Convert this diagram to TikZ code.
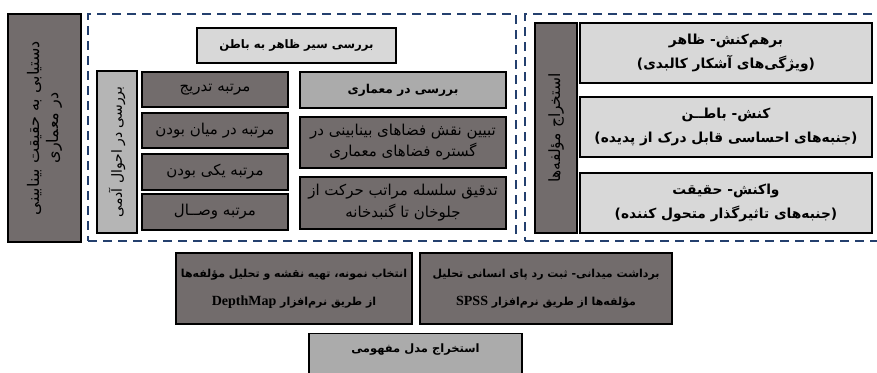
\documentclass[tikz,border=0pt]{standalone}
\usepackage{fontspec}
\TeXXeTstate=1
\newfontfamily\fafont[Script=Arabic]{DejaVu Sans}
\newfontfamily\latfont{Liberation Serif}
\newcommand\fl[1]{\beginR#1\endR}
\newcommand\latw[1]{\beginL{\latfont\bfseries\fontsize{14}{14}\selectfont #1}\endL}
\definecolor{dkgray}{HTML}{726C6C}
\definecolor{ltgray}{HTML}{D8D8D8}
\definecolor{mdgray}{HTML}{ABABAB}
\definecolor{vgray}{HTML}{B5B5B5}
\definecolor{navy}{HTML}{24406E}
\begin{document}
\begin{tikzpicture}[x=1pt,y=-1pt,
  box/.style={draw=black, line width=1.3pt, align=center, inner sep=2pt},
  rg/.style 2 args={font=\fafont\fontsize{#1}{#2}\selectfont},
  bd/.style 2 args={font=\fafont\bfseries\fontsize{#1}{#2}\selectfont},
  dk/.style={box, fill=dkgray},
  lt/.style={box, fill=ltgray},
  md/.style={box, fill=mdgray},
  vg/.style={box, fill=vgray},
  grp/.style={draw=navy, line width=2.2pt, dash pattern=on 9pt off 6pt, inner sep=0pt}]
\clip (0,0) rectangle (877,372);
\fill[white] (0,0) rectangle (877,372);

% outcome column
\node[dk, rg={16}{19}, rotate=90, minimum width=228pt, minimum height=73pt] (goal) at (44.5,128)
  {\fl{دستیابی به حقیقت بینابینی}\\\fl{در معماری}};

% group: from the outer to the inner
\node[grp, minimum width=428pt, minimum height=227pt] (inner) at (302,127.5) {};
\node[lt, bd={11.7}{14}, minimum width=199pt, minimum height=35pt] (sir) at (296.5,45.5) {\fl{بررسی سیر ظاهر به باطن}};

\node[vg, rg={14}{16}, rotate=90, minimum width=162pt, minimum height=40pt] (ahval) at (117,152) {\fl{بررسی در احوال آدمی}};
\node[dk, rg={15}{16}, minimum width=146pt, minimum height=35pt] (m1) at (215,89.5) {\fl{مرتبه تدریج}};
\node[dk, rg={15}{16}, minimum width=146pt, minimum height=35pt] (m2) at (215,130.5) {\fl{مرتبه در میان بودن}};
\node[dk, rg={15}{16}, minimum width=146pt, minimum height=36pt] (m3) at (215,172) {\fl{مرتبه یکی بودن}};
\node[dk, rg={15}{16}, minimum width=146pt, minimum height=36pt] (m4) at (215,212) {\fl{مرتبه وصــال}};

\node[md, bd={12.2}{14}, minimum width=206pt, minimum height=36pt] (memari) at (403,90) {\fl{بررسی در معماری}};
\node[dk, rg={15}{21}, minimum width=206pt, minimum height=51pt] (tabyin) at (403,142.5)
  {\fl{تبیین نقش فضاهای بینابینی در}\\\fl{گستره فضاهای معماری}};
\node[dk, rg={15}{22}, minimum width=206pt, minimum height=52pt] (tadqiq) at (403,203)
  {\fl{تدقیق سلسله مراتب حرکت از}\\\fl{جلوخان تا گنبدخانه}};

% group: components
\node[grp, minimum width=375pt, minimum height=227pt] (comp) at (712.5,127.5) {};
\node[dk, rg={15.5}{19}, rotate=90, minimum width=210pt, minimum height=42pt] (estekhraj) at (556,128) {\fl{استخراج مؤلفه‌ها}};
\node[lt, bd={13.8}{24}, minimum width=292pt, minimum height=60pt] (zaher) at (726,53)
  {\fl{برهم‌کنش- ظاهر}\\\fl{(ویژگی‌های آشکار کالبدی)}};
\node[lt, bd={13.8}{24}, minimum width=292pt, minimum height=60pt] (baten) at (726,127)
  {\fl{کنش- باطــن}\\\fl{(جنبه‌های احساسی قابل درک از پدیده)}};
\node[lt, bd={13.8}{24}, minimum width=292pt, minimum height=60pt] (haqiqat) at (726,203)
  {\fl{واکنش- حقیقت}\\\fl{(جنبه‌های تاثیرگذار متحول کننده)}};

% methods
\node[dk, bd={11}{28}, minimum width=236pt, minimum height=71pt] (depth) at (294,288.5)
  {\fl{انتخاب نمونه، تهیه نقشه و تحلیل مؤلفه‌ها}\\\fl{از طریق نرم‌افزار \latw{DepthMap}}};
\node[dk, bd={11}{28}, minimum width=252pt, minimum height=71pt] (spss) at (546,288.5)
  {\fl{برداشت میدانی- ثبت رد پای انسانی تحلیل}\\\fl{مؤلفه‌ها از طریق نرم‌افزار \latw{SPSS}}};

% conceptual model
\node[md, bd={11.5}{14}, anchor=north, minimum width=213pt, minimum height=55pt, text height=9pt, text depth=30pt, inner ysep=10pt] (model) at (415.5,333) {\fl{استخراج مدل مفهومی}};
\end{tikzpicture}
\end{document}
